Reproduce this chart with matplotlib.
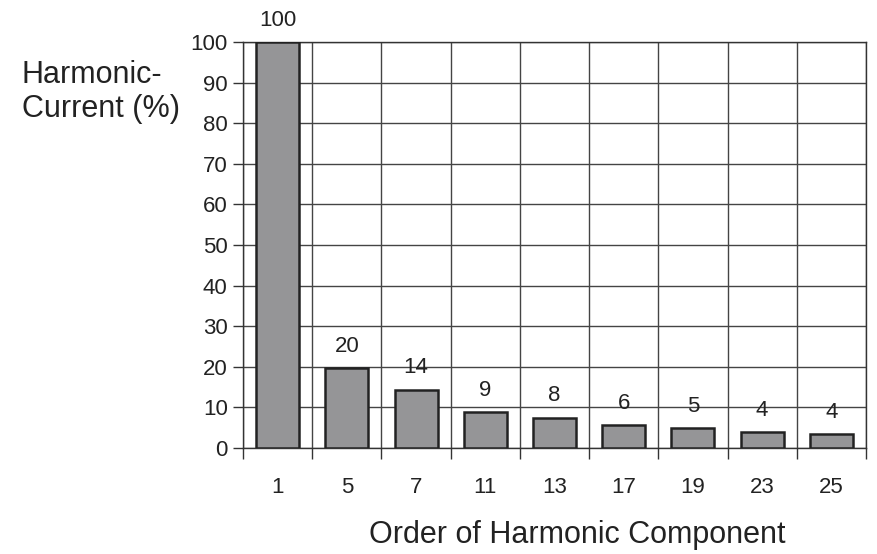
import matplotlib
matplotlib.use("Agg")
import matplotlib.pyplot as plt
import numpy as np

plt.rcParams["font.family"] = ["Liberation Sans", "DejaVu Sans"]

orders = ["1", "5", "7", "11", "13", "17", "19", "23", "25"]
heights = [100, 19.8, 14.4, 8.9, 7.5, 5.6, 5.0, 4.0, 3.5]
value_labels = ["100", "20", "14", "9", "8", "6", "5", "4", "4"]

fig = plt.figure(figsize=(8.77, 5.54), dpi=100)
ax = fig.add_axes([243 / 877, 106 / 554, 623 / 877, 406 / 554])

x = np.arange(len(orders))
ax.bar(x, heights, width=0.62, color="#959597", edgecolor="#222222",
       linewidth=1.8, zorder=3)

for xi, h, lab in zip(x, heights, value_labels):
    ax.annotate(lab, (xi, h), xytext=(0, 8), textcoords="offset points",
                ha="center", va="bottom", fontsize=16, color="#222222", zorder=4)

ax.set_xlim(-0.5, len(orders) - 0.5)
ax.set_ylim(0, 100)

# y axis
ax.set_yticks(np.arange(0, 101, 10))
ax.tick_params(axis="y", length=7, width=1, color="#333333",
               labelsize=16, labelcolor="#222222", pad=4)

# x axis: boundary ticks, labels at centres
ax.set_xticks(np.arange(-0.5, len(orders), 1.0))
ax.set_xticklabels([])
ax.set_xticks(x, minor=True)
ax.set_xticklabels(orders, minor=True)
ax.tick_params(axis="x", which="major", length=8, width=1, color="#333333")
ax.tick_params(axis="x", which="minor", length=0, labelsize=16,
               labelcolor="#222222", pad=21)

ax.grid(True, which="major", color="#444444", linewidth=1.0, zorder=0)
ax.set_axisbelow(True)
for s in ax.spines.values():
    s.set_color("#333333")
    s.set_linewidth(1.0)

fig.text(577 / 877, 1 - 535 / 554, "Order of Harmonic Component",
         ha="center", va="center", fontsize=22, color="#222222")
fig.text(22 / 877, 1 - 92 / 554, "Harmonic-\nCurrent (%)",
         ha="left", va="center", fontsize=22, color="#222222", linespacing=1.15)

fig.savefig("out.png", dpi=100)
